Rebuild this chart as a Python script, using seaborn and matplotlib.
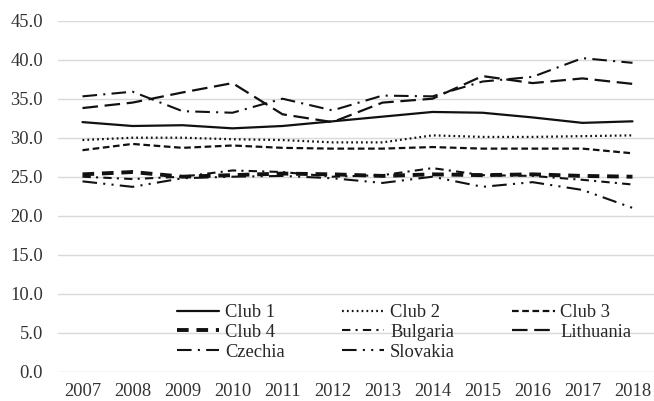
import matplotlib
matplotlib.use("Agg")
import matplotlib.pyplot as plt
import seaborn as sns
import numpy as np

years = [2007, 2008, 2009, 2010, 2011, 2012, 2013, 2014, 2015, 2016, 2017, 2018]
club1 = [32.0, 31.5, 31.6, 31.2, 31.5, 32.1, 32.7, 33.3, 33.2, 32.6, 31.9, 32.1]
club2 = [29.7, 30.0, 30.0, 29.8, 29.7, 29.4, 29.4, 30.3, 30.1, 30.1, 30.2, 30.3]
club3 = [28.4, 29.2, 28.7, 29.0, 28.7, 28.6, 28.6, 28.8, 28.6, 28.6, 28.6, 28.0]
club4 = [25.3, 25.6, 25.0, 25.2, 25.4, 25.3, 25.1, 25.3, 25.2, 25.3, 25.1, 25.0]
bulgaria = [25.0, 24.7, 25.0, 25.8, 25.6, 25.0, 25.2, 26.1, 25.2, 25.1, 24.6, 24.0]
lithuania = [33.8, 34.5, 35.8, 37.0, 33.0, 32.0, 34.5, 35.0, 37.9, 37.0, 37.6, 36.9]
czechia = [35.3, 35.9, 33.4, 33.2, 35.0, 33.5, 35.4, 35.3, 37.2, 37.8, 40.2, 39.6]
slovakia = [24.4, 23.7, 24.8, 25.0, 25.1, 24.8, 24.2, 25.0, 23.7, 24.3, 23.3, 21.0]

y_ticks = [0, 5, 10, 15, 20, 25, 30, 35, 40, 45]

series = [
    ("Club 1", club1, "-", 1.6),
    ("Club 2", club2, (0, (0.8, 1.4)), 1.6),
    ("Club 3", club3, (0, (3.0, 1.6)), 1.6),
    ("Club 4", club4, (0, (3.0, 2.0)), 2.8),
    ("Bulgaria", bulgaria, (0, (4.0, 2.5, 1.0, 2.5)), 1.5),
    ("Lithuania", lithuania, (0, (7.0, 3.0)), 1.6),
    ("Czechia", czechia, (0, (7.0, 3.0, 1.0, 3.0)), 1.5),
    ("Slovakia", slovakia, (0, (7.0, 3.0, 1.0, 3.0, 1.0, 3.0)), 1.5),
]

sns.set_theme(style="white")
plt.rcParams["font.family"] = ["Liberation Serif", "DejaVu Serif"]

fig = plt.figure(figsize=(6.54, 4.01), dpi=100)
ax = fig.add_axes([57.5 / 654, (401 - 371.7) / 401, 600 / 654, 351 / 401])

for name, vals, ls, lw in series:
    sns.lineplot(x=years, y=vals, ax=ax, color="#111111", linestyle=ls,
                 linewidth=lw, label=name)

ax.set_xlim(2006.5, 2018.5)
ax.set_ylim(0, 45)
ax.set_yticks(y_ticks)
ax.set_yticklabels([f"{v:.1f}" for v in y_ticks])
ax.set_xticks(years)
ax.set_xticklabels([str(y) for y in years])
ax.yaxis.grid(True, color="#d9d9d9", linewidth=1.0)
ax.xaxis.grid(False)
ax.set_axisbelow(True)
for s in ax.spines.values():
    s.set_visible(False)
ax.tick_params(axis="y", length=0, pad=10.5, labelsize=13.3, labelcolor="#333333")
ax.tick_params(axis="x", length=0, pad=8, labelsize=13.3, labelcolor="#333333")
ax.set_xlabel("")
ax.set_ylabel("")

handles, labels = ax.get_legend_handles_labels()
order = ["Club 1", "Club 4", "Czechia", "Club 2", "Bulgaria", "Slovakia", "Club 3", "Lithuania"]
hmap = dict(zip(labels, handles))
ax.legend([hmap[k] for k in order], order, ncol=3, frameon=False,
          loc="upper left", bbox_to_anchor=(177 / 654, 1 - 304 / 401),
          bbox_transform=fig.transFigure, borderaxespad=0, borderpad=0,
          handlelength=2.3, handletextpad=0.3, columnspacing=3.1,
          labelspacing=0.15, fontsize=13.3)

fig.savefig("out.png", dpi=100)
